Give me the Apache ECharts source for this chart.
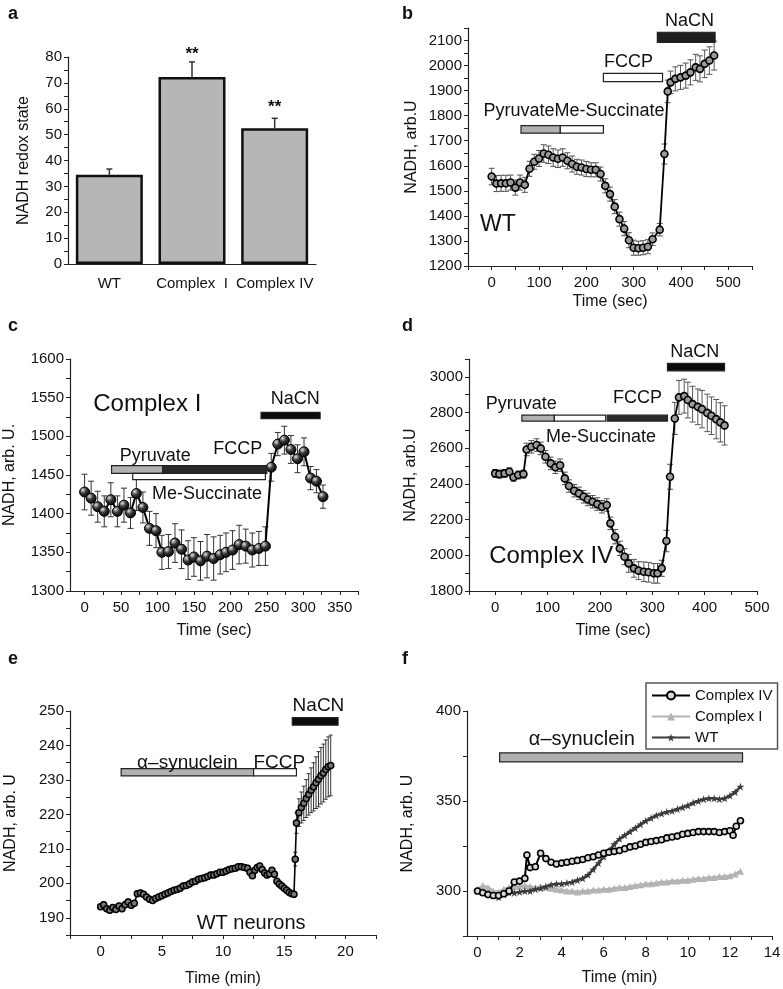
<!DOCTYPE html>
<html>
<head>
<meta charset="utf-8">
<script src="https://cdn.jsdelivr.net/npm/echarts@6/dist/echarts.min.js"></script>
<style>html,body{margin:0;padding:0;background:#fff}#c{width:783px;height:989px}</style>
</head>
<body>
<div id="c"></div>
<script>
// ---------- Panel a ----------
const aCats = ['WT', 'Complex  I', 'Complex IV'];
const aVals = [34.5, 72.3, 52.5];
const aErr = [2.2, 5.8, 3.8];
const aStars = [[1, 81], [2, 60.5]];
const aYLabels = [0, 10, 20, 30, 40, 50, 60, 70, 80];
const aYTicks = [0, 5, 10, 15, 20, 25, 30, 35, 40, 45, 50, 55, 60, 65, 70, 75, 80];

// ---------- Panel b (WT) ----------
const bT = [0,10,20,30,40,50,60,70,80,90,100,110,120,130,140,150,160,170,180,190,200,210,220,230,240,250,260,270,280,290,300,310,320,330,340,355,365,372,378,388,399,410,420,431,440,450,460,470];
const bV = [1557,1529,1530,1530,1533,1513,1533,1524,1588,1616,1629,1649,1644,1633,1628,1633,1620,1607,1596,1593,1587,1584,1584,1567,1520,1487,1437,1387,1349,1303,1273,1271,1273,1277,1307,1345,1647,1897,1933,1947,1953,1960,1973,1993,1987,2007,2020,2040];
const bE = [33,32,32,32,30,30,30,30, 30,30,32,35,35,35,35,35,32,32,30,30,30,28,28,28, 28,28,28,28,28,30,30,28,28,28,25, 25,40, 45,45,48,48,50,50,52,52,55,55,58];
const bXLabels = [0,100,200,300,400,500];
const bXTicks = [-50,0,50,100,150,200,250,300,350,400,450,500,550];
const bYLabels = [1200,1300,1400,1500,1600,1700,1800,1900,2000,2100];
const bYTicks = [1200,1250,1300,1350,1400,1450,1500,1550,1600,1650,1700,1750,1800,1850,1900,1950,2000,2050,2100,2150];
const bBars = [[62,145,1730,1760],[145,236,1730,1760],[236,361,1936,1969],[350,472,2093,2133]];
const bLabels = ['PyruvateMe-Succinate','FCCP','NaCN','WT'];
const bLabelPos = [[174,1818],[289,2013],[418,2178],[13,1367]];

// ---------- Panel c (Complex I) ----------
const cT = [0,9,18,27,36,45,54,63,71,80,89,98,106,115,124,133,142,150,159,168,177,186,194,203,212,221,230,239,248,256,265,274,283,292,301,310,318,327];
const cV = [1428,1420,1409,1403,1418,1403,1411,1401,1426,1408,1381,1378,1350,1351,1362,1354,1340,1344,1339,1345,1342,1347,1350,1353,1360,1358,1353,1355,1358,1460,1490,1495,1483,1471,1480,1446,1442,1422];
const cE = [23,22,20,20,22,20,22,20,22,20,22,22,22,22,25,25,25,25,25,28,28,25,25,25,25,22,22,22,25,18,15,18,18,18,18,15,15,15];
const cXLabels = [0,50,100,150,200,250,300,350];
const cXTicks = [0,25,50,75,100,125,150,175,200,225,250,275,300,325,350,375];
const cYLabels = [1300,1350,1400,1450,1500,1550,1600];
const cYTicks = [1300,1325,1350,1375,1400,1425,1450,1475,1500,1525,1550,1575,1600];
const cBars = [[37,107,1452,1462],[107,250,1452,1462],[66,248,1444,1452],[242,323,1523,1531]];
const cLabels = ['Complex I','NaCN','Pyruvate','FCCP','Me-Succinate'];
const cLabelPos = [[86,1541],[289,1548],[97,1474],[210,1483],[168,1426]];

// ---------- Panel d (Complex IV) ----------
const dT = [0,8,18,27,35,44,54,60,69,79,87,96,106,115,124,133,141,151,160,169,177,186,195,204,213,220,229,238,247,255,265,274,284,293,303,310,318,327,334,343,351,361,368,377,387,395,405,413,422,430,438];
const dV = [2459,2455,2459,2468,2437,2450,2455,2593,2608,2618,2599,2552,2515,2493,2505,2431,2388,2362,2347,2328,2313,2300,2287,2272,2282,2179,2104,2039,1992,1955,1927,1914,1908,1905,1899,1899,1927,2080,2440,2767,2885,2892,2870,2847,2832,2819,2798,2782,2763,2745,2728];
const dE = [22,22,22,22,22,22,22, 35,35,35,35,35,35,35,35, 35,35,35,35,35,35,35,35,35,35, 35,40,40,45,50,50,50,55,55,55,55, 45,60, 70,90, 95,95,100,100,100,105,105,105,110,110,110];
const dXLabels = [0,100,200,300,400,500];
const dXTicks = [-50,0,50,100,150,200,250,300,350,400,450,500];
const dYLabels = [1800,2000,2200,2400,2600,2800,3000];
const dYTicks = [1800,1900,2000,2100,2200,2300,2400,2500,2600,2700,2800,2900,3000,3100];
const dBars = [[51,113,2752,2785],[113,211,2752,2785],[214,329,2752,2785],[329,438,3034,3075]];
const dLabels = ['Pyruvate','FCCP','Me-Succinate','NaCN','Complex IV'];
const dLabelPos = [[50,2847],[272,2884],[202,2664],[381,3140],[107,1996]];

// ---------- Panel e (WT neurons) ----------
const eT = [0,0.25,0.5,0.75,1,1.25,1.5,1.75,2,2.25,2.5,2.75,3,3.25,3.5,3.75,4,4.25,4.5,4.75,5,5.25,5.5,5.75,6,6.25,6.5,6.75,7,7.25,7.5,7.75,8,8.25,8.5,8.75,9,9.25,9.5,9.75,10,10.25,10.5,10.75,11,11.25,11.5,11.75,12,
  12.2,12.4,12.6,12.8,13,13.2,13.4,13.6,13.8,14,14.2,14.4,14.6,14.8,15,15.2,15.4,15.6,15.8,
  15.9,16,16.2,16.4,16.6,16.8,17,17.2,17.4,17.6,17.8,18,18.2,18.4,18.6,18.8];
const eV = [193.2,193.8,192.6,192.2,193.0,192.4,193.4,192.6,193.8,194.6,193.6,194.2,197.0,197.2,196.8,196.0,195.4,195.0,195.6,196.0,196.4,196.8,197.2,197.6,198.0,198.2,198.6,199.2,199.4,199.8,200.4,200.6,201.2,201.4,201.6,202.0,202.4,202.4,202.8,203.2,203.2,203.6,204.0,204.2,204.4,204.8,204.8,204.6,204.4,
  203.2,202.2,203.8,204.6,205.0,204.0,203.0,202.4,202.8,203.8,202.6,200.6,199.8,199.2,198.6,198.0,197.4,197.0,196.8,
  207.0,217.5,220.5,222.0,223.2,224.6,225.8,227.0,228.0,229.2,230.2,231.2,232.0,233.0,233.8,234.2];
const eE = [0.8,0.8,0.8,0.8,0.8,0.8,0.8,0.8,0.8,0.8,0.8,0.8,0.8,0.8,0.8,0.8,0.8,0.8,0.8,0.8,0.8,0.8,0.8,0.8,0.8,0.8,0.8,0.8,0.8,0.8,0.8,0.8,0.8,0.8,0.8,0.8,0.8,0.8,0.8,0.8,0.8,0.8,0.8,0.8,0.8,0.8,0.8,0.8,0.8,
  0.8,0.8,0.8,0.8,0.8,0.8,0.8,0.8,0.8,0.8,0.8,0.8,0.8,0.8,0.8,0.8,0.8,0.8,0.8,
  2,3,4,4.5,5,5.5,6,6.5,7,7.5,8,8.2,8.4,8.6,8.7,8.8];
const eXLabels = [0,5,10,15,20];
const eXTicks = [-2.5,0,2.5,5,7.5,10,12.5,15,17.5,20,22.5];
const eYLabels = [190,200,210,220,230,240,250];
const eYTicks = [185,190,195,200,205,210,215,220,225,230,235,240,245,250];
const eBars = [[1.68,12.5,231.2,233.3],[12.5,16.0,231.2,233.3],[15.66,19.4,245.9,248.1]];
const eLabels = ['α–synuclein','FCCP','NaCN','WT neurons'];
const eLabelPos = [[7.1,235.0],[14.6,235.0],[17.8,251.6],[12.3,188.2]];

// ---------- Panel f ----------
const fT = [0,0.25,0.5,0.75,1,1.25,1.5,1.75,2,2.25,2.5,2.75,3,3.25,3.5,3.75,4,4.25,4.5,4.75,5,5.25,5.5,5.75,6,6.25,6.5,6.75,7,7.25,7.5,7.75,8,8.25,8.5,8.75,9,9.25,9.5,9.75,10,10.25,10.5,10.75,11,11.25,11.5,11.75,12,12.25,12.5];
const fWT = [300,299.5,298.5,297.5,296.5,298,299,299,299.5,300,300,301,301.5,302.5,303.5,304,304,304.5,305,306,307,309,312,315.5,319,322.5,326,329,331,333,335,337,339,340.5,342,343,344,344.5,345.5,346.5,347.5,349,350,351,351.5,351.5,351,351.5,353,355,358];
const fC1 = [301,303,302,300,299.5,301,302,302.5,302.5,303,302.5,302,302.5,302,301.5,301,300.5,300,300,299.5,300,300,300.5,300.5,301,301,301.5,302,302,302.5,303,303.5,304,304,304.5,305,305,305.5,305.5,306,306,306.5,307,307,307.5,307.5,308,308,308.5,309.5,311];
const fC4T = [0,0.25,0.5,0.75,1,1.25,1.5,1.75,2,2.25,2.35,2.5,2.75,3,3.25,3.5,3.75,4,4.25,4.5,4.75,5,5.25,5.5,5.75,6,6.25,6.5,6.75,7,7.25,7.5,7.75,8,8.25,8.5,8.75,9,9.25,9.5,9.75,10,10.25,10.5,10.75,11,11.25,11.5,11.75,12,12.15,12.3,12.5];
const fC4 = [300,299,298,297.5,297.5,298.5,300,305,305.5,307,320,313,313.5,321,318,316,315,315.5,316,316.5,317,317.5,318.5,319,320,321,321.5,322,322.5,323.5,324.5,325,326,327,327.5,328,328.5,329.5,330,330.5,331.5,332,332.5,333,333,333,333,332.5,333,333.5,331,336,339];
const fXLabels = [0,2,4,6,8,10,12,14];
const fXTicks = [0,1,2,3,4,5,6,7,8,9,10,11,12,13,14];
const fYLabels = [300,350,400];
const fYTicks = [275,300,325,350,375,400];
const fBars = [[1.05,12.6,371.7,376.7]];
const fLabels = ['α–synuclein'];
const fLabelPos = [[4.96,384]];

// ---------- styling helpers ----------
const FONT = "'Liberation Sans', Arial, Helvetica, sans-serif";
const INK = '#111';
const zip = (xs, ys) => xs.map((x, i) => [x, ys[i]]);

function valAxis(gi, min, max, labels, ticks, name, gap, isY) {
  return {
    type: 'value', gridIndex: gi, min: min, max: max,
    axisLine: { show: true, onZero: false, lineStyle: { color: '#222', width: 1.2 } },
    axisTick: { show: true, customValues: ticks, length: 4, inside: false, lineStyle: { color: '#222', width: 1 } },
    axisLabel: { customValues: labels, fontSize: 15, color: INK, fontFamily: FONT, margin: isY ? 6 : 9,
      formatter: v => String(v) },
    splitLine: { show: false },
    name: name, nameLocation: 'middle', nameGap: gap,
    nameTextStyle: { fontSize: 16, color: INK, fontFamily: FONT }
  };
}

function lineSeries(gi, xs, ys, sym, size, itemStyle, lw, z) {
  return {
    type: 'line', xAxisIndex: gi, yAxisIndex: gi, data: zip(xs, ys),
    symbol: sym, symbolSize: size, showSymbol: true,
    lineStyle: { color: '#000', width: lw }, itemStyle: itemStyle,
    animation: false, z: z || 3, silent: true
  };
}

function errSeries(gi, xs, ys, es, color, cap) {
  return {
    type: 'custom', xAxisIndex: gi, yAxisIndex: gi, silent: true, animation: false, z: 2,
    data: xs.map((x, i) => [x, ys[i] - es[i], ys[i] + es[i]]),
    encode: { x: 0, y: [1, 2] },
    renderItem: function (p, api) {
      const lo = api.coord([api.value(0), api.value(1)]);
      const hi = api.coord([api.value(0), api.value(2)]);
      const st = { stroke: color, lineWidth: 1 };
      return { type: 'group', children: [
        { type: 'line', shape: { x1: lo[0], y1: lo[1], x2: hi[0], y2: hi[1] }, style: st },
        { type: 'line', shape: { x1: lo[0] - cap, y1: lo[1], x2: lo[0] + cap, y2: lo[1] }, style: st },
        { type: 'line', shape: { x1: hi[0] - cap, y1: hi[1], x2: hi[0] + cap, y2: hi[1] }, style: st }
      ] };
    }
  };
}

function barsSeries(gi, bars, fills) {
  return {
    type: 'custom', xAxisIndex: gi, yAxisIndex: gi, silent: true, animation: false, z: 4,
    data: bars, encode: { x: [0, 1], y: [2, 3] },
    renderItem: function (p, api) {
      const a = api.coord([api.value(0), api.value(3)]);
      const b = api.coord([api.value(1), api.value(2)]);
      return { type: 'rect', shape: { x: a[0], y: a[1], width: b[0] - a[0], height: b[1] - a[1] },
        style: { fill: fills[p.dataIndex], stroke: '#222', lineWidth: 1.2 } };
    }
  };
}

function textSeries(gi, pos, labels, sizes, weight) {
  return {
    type: 'custom', xAxisIndex: gi, yAxisIndex: gi, silent: true, animation: false, z: 6,
    data: pos, encode: { x: 0, y: 1 },
    renderItem: function (p, api) {
      const c = api.coord([api.value(0), api.value(1)]);
      return { type: 'text', x: c[0], y: c[1],
        style: { text: labels[p.dataIndex], font: (weight || 'normal') + ' ' + sizes[p.dataIndex] + 'px ' + FONT,
          fill: INK, align: 'center', verticalAlign: 'middle' } };
    }
  };
}

const chart = echarts.init(document.getElementById('c'), null, { renderer: 'canvas' });

const circleStyle = { color: '#9a9a9a', borderColor: '#000', borderWidth: 1.6 };
const circleStyleE = { color: '#777', borderColor: '#000', borderWidth: 1.5 };
const sphereStyle = {
  color: new echarts.graphic.RadialGradient(0.35, 0.32, 0.7, [
    { offset: 0, color: '#e0e0e0' }, { offset: 0.45, color: '#3a3a3a' }, { offset: 1, color: '#000' }]),
  borderColor: '#000', borderWidth: 1
};
const STAR = 'path://M50,0 L61,35 L98,35 L68,57 L79,91 L50,70 L21,91 L32,57 L2,35 L39,35 Z';

const option = {
  backgroundColor: '#fff',
  animation: false,
  title: ['a', 'b', 'c', 'd', 'e', 'f'].map((t, i) => ({
    text: t, left: [3, 397, 3, 397, 3, 397][i], top: [0, 0, 312, 312, 645, 645][i],
    textStyle: { fontSize: 18, fontWeight: 'bold', color: INK, fontFamily: FONT }
  })),
  grid: [
    { left: 68, top: 57, width: 248, height: 207 },
    { left: 468, top: 28, width: 284, height: 238 },
    { left: 70, top: 359, width: 288, height: 232 },
    { left: 469, top: 359, width: 288, height: 232 },
    { left: 70, top: 711, width: 306, height: 224 },
    { left: 467, top: 711, width: 305, height: 225 }
  ].map(g => Object.assign(g, { containLabel: false, outerBoundsMode: 'none' })),
  legend: {
    data: ['Complex IV', 'Complex I', 'WT'], orient: 'vertical', left: 646, top: 683,
    itemWidth: 38, itemHeight: 10, itemGap: 6, padding: [5, 5, 4, 5],
    borderColor: '#555', borderWidth: 1.5, backgroundColor: '#fff',
    textStyle: { fontSize: 15, color: INK, fontFamily: FONT }
  },
  xAxis: [
    { type: 'category', gridIndex: 0, data: aCats,
      axisLine: { show: true, lineStyle: { color: '#222', width: 1.2 } },
      axisTick: { show: false },
      axisLabel: { fontSize: 15, color: INK, fontFamily: FONT, margin: 12, interval: 0 } },
    valAxis(1, -50, 550, bXLabels, bXTicks, 'Time (sec)', 28, false),
    valAxis(2, -20, 375, cXLabels, cXTicks, 'Time (sec)', 32, false),
    valAxis(3, -50, 500, dXLabels, dXTicks, 'Time (sec)', 32, false),
    valAxis(4, -2.5, 22.5, eXLabels, eXTicks, 'Time (min)', 36, false),
    valAxis(5, -0.5, 14, fXLabels, fXTicks, 'Time (min)', 34, false)
  ],
  yAxis: [
    valAxis(0, 0, 80, aYLabels, aYTicks, 'NADH redox state', 36, true),
    valAxis(1, 1200, 2150, bYLabels, bYTicks, 'NADH, arb.U', 48, true),
    valAxis(2, 1300, 1600, cYLabels, cYTicks, 'NADH, arb. U.', 52, true),
    valAxis(3, 1800, 3100, dYLabels, dYTicks, 'NADH, arb.U', 50, true),
    valAxis(4, 185, 250, eYLabels, eYTicks, 'NADH, arb. U', 51, true),
    valAxis(5, 275, 400, fYLabels, fYTicks, 'NADH, arb. U', 51, true)
  ],
  series: [
    // a
    { type: 'bar', xAxisIndex: 0, yAxisIndex: 0, data: aVals, barWidth: 67, silent: true, z: 3,
      itemStyle: { color: '#b6b6b6', borderColor: '#111', borderWidth: 2.5 } },
    { type: 'custom', xAxisIndex: 0, yAxisIndex: 0, silent: true, z: 2,
      data: aVals.map((v, i) => [i, v, v + aErr[i]]),
      renderItem: function (p, api) {
        const lo = api.coord([api.value(0), api.value(1)]);
        const hi = api.coord([api.value(0), api.value(2)]);
        const st = { stroke: '#333', lineWidth: 1.5 };
        return { type: 'group', children: [
          { type: 'line', shape: { x1: lo[0], y1: lo[1], x2: hi[0], y2: hi[1] }, style: st },
          { type: 'line', shape: { x1: hi[0] - 3, y1: hi[1], x2: hi[0] + 3, y2: hi[1] }, style: st }
        ] };
      } },
    textSeries(0, aStars, ['**', '**'], [17, 17], 'bold'),

    // b
    errSeries(1, bT, bV, bE, '#555', 3),
    lineSeries(1, bT, bV, 'circle', 7, circleStyle, 1.8),
    barsSeries(1, bBars, ['#b0b0b0', '#ffffff', '#ffffff', '#1e1e1e']),
    textSeries(1, bLabelPos, bLabels, [18, 18, 18, 23]),

    // c
    errSeries(2, cT, cV, cE, '#333', 3),
    lineSeries(2, cT, cV, 'circle', 10, sphereStyle, 2),
    barsSeries(2, cBars, ['#b0b0b0', '#2a2a2a', '#ffffff', '#0a0a0a']),
    textSeries(2, cLabelPos, cLabels, [24, 18, 18, 18, 18]),

    // d
    errSeries(3, dT, dV, dE, '#555', 3),
    lineSeries(3, dT, dV, 'circle', 7, circleStyle, 1.8),
    barsSeries(3, dBars, ['#b0b0b0', '#ffffff', '#2a2a2a', '#0a0a0a']),
    textSeries(3, dLabelPos, dLabels, [18, 18, 18, 18, 24]),

    // e
    errSeries(4, eT, eV, eE, '#333', 2),
    lineSeries(4, eT, eV, 'circle', 6, circleStyleE, 1.6),
    barsSeries(4, eBars, ['#b0b0b0', '#ffffff', '#0a0a0a']),
    textSeries(4, eLabelPos, eLabels, [19, 19, 19, 20]),

    // f
    { name: 'Complex I', type: 'line', xAxisIndex: 5, yAxisIndex: 5, data: zip(fT, fC1),
      symbol: 'triangle', symbolSize: 7, lineStyle: { color: '#b3b3b3', width: 2.5 },
      itemStyle: { color: '#b3b3b3' }, z: 3, silent: true },
    { name: 'WT', type: 'line', xAxisIndex: 5, yAxisIndex: 5, data: zip(fT, fWT),
      symbol: STAR, symbolSize: 8, lineStyle: { color: '#3c3c3c', width: 2.5 },
      itemStyle: { color: '#3c3c3c' }, z: 4, silent: true },
    { name: 'Complex IV', type: 'line', xAxisIndex: 5, yAxisIndex: 5, data: zip(fC4T, fC4),
      symbol: 'circle', symbolSize: 6, lineStyle: { color: '#000', width: 2 },
      itemStyle: { color: '#d8d8d8', borderColor: '#000', borderWidth: 1.6 }, z: 5, silent: true },
    barsSeries(5, fBars, ['#b0b0b0']),
    textSeries(5, fLabelPos, fLabels, [20])
  ]
};
chart.setOption(option);
</script>
</body>
</html>
